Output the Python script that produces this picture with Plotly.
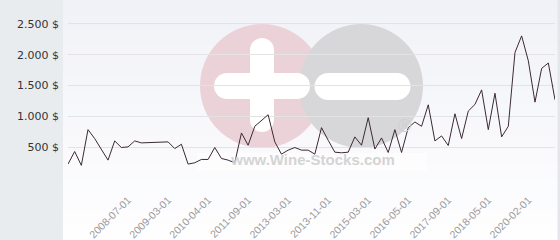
import plotly.graph_objects as go

dates = [
    "2006-10-01", "2006-12-01", "2007-02-01", "2007-05-01", "2007-07-01", "2007-10-01",
    "2007-12-01", "2008-02-01", "2008-04-01", "2008-07-01",
    "2008-08-01", "2008-09-01", "2008-11-01", "2008-12-01", "2009-01-01", "2009-03-01",
    "2009-05-01", "2009-07-01", "2009-09-01", "2009-11-01", "2010-01-01", "2010-04-01",
    "2010-07-01", "2010-09-01", "2010-12-01", "2011-02-01", "2011-05-01", "2011-09-01",
    "2011-12-01", "2012-03-01", "2012-06-01", "2012-09-01", "2012-12-01", "2013-03-01",
    "2013-04-01", "2013-06-01", "2013-07-01", "2013-08-01", "2013-10-01", "2013-11-01",
    "2014-01-01", "2014-04-01", "2014-06-01", "2014-09-01", "2014-12-01", "2015-03-01",
    "2015-05-01", "2015-08-01", "2015-10-01", "2016-01-01", "2016-03-01", "2016-05-01",
    "2016-08-01", "2016-11-01", "2017-01-01", "2017-04-01", "2017-07-01", "2017-09-01",
    "2017-10-01", "2017-12-01", "2018-01-01", "2018-03-01", "2018-04-01", "2018-05-01",
    "2018-09-01", "2019-01-01", "2019-04-01", "2019-07-01", "2019-10-01", "2020-02-01",
    "2020-06-01", "2020-10-01", "2021-02-01", "2021-06-01",
]

prices = [
    226, 430, 205, 785, 640, 468, 290, 602, 495, 505,
    602, 570, 572, 580, 586, 586,
    478, 548, 226, 247, 301, 301,
    495, 317, 290, 247, 731, 532,
    839, 935, 1027, 586, 387, 452,
    495, 452, 452, 387, 817, 613,
    419, 409, 419, 667, 532, 979,
    470, 650, 414, 785, 414, 817,
    909, 839, 1188, 602, 683, 527,
    1043, 640, 1086, 1194, 1430, 785,
    1376, 667, 839, 2037, 2307, 1903,
    1231, 1779, 1866, 1269,
]

x_tick_labels = [
    "2008-07-01", "2009-03-01", "2010-04-01", "2011-09-01", "2013-03-01", "2013-11-01",
    "2015-03-01", "2016-05-01", "2017-09-01", "2018-05-01", "2020-02-01",
]

y_tick_values = [0, 500, 1000, 1500, 2000, 2500]
y_tick_labels = ["", "500 $", "1.000 $", "1.500 $", "2.000 $", "2.500 $"]

watermark_texts = ["www.Wine-Stocks.com", "®"]

W, H = 560, 240
L, R, T, B = 68, 5, 0, 62
PW, PH = W - L - R, H - T - B


def px(xp):
    return (xp - L) / PW


def py(yp):
    return (H - B - yp) / PH


shapes = []

# plot area gradient background
nb = 16
top_c = (241, 242, 247)
bot_c = (254, 254, 255)
for k in range(nb):
    y0 = 240 * k / nb
    y1 = 240 * (k + 1) / nb
    f = k / (nb - 1)
    c = tuple(round(top_c[j] + (bot_c[j] - top_c[j]) * f) for j in range(3))
    shapes.append(dict(type="rect", xref="paper", yref="paper",
                       x0=px(63), x1=px(558), y0=py(y1), y1=py(y0),
                       fillcolor="rgb(%d,%d,%d)" % c, line_width=0, layer="below"))

# left gray panel
shapes.append(dict(type="rect", xref="paper", yref="paper",
                   x0=px(0), x1=px(63), y0=py(240), y1=py(0),
                   fillcolor="#e8ecef", line_width=0, layer="below"))
# right border
shapes.append(dict(type="rect", xref="paper", yref="paper",
                   x0=px(557.5), x1=px(560), y0=py(240), y1=py(0),
                   fillcolor="#e3e6ea", line_width=0, layer="below"))


def circle(cx, cy, r, color):
    return dict(type="circle", xref="paper", yref="paper",
                x0=px(cx - r), x1=px(cx + r), y0=py(cy + r), y1=py(cy - r),
                fillcolor=color, line_width=0, layer="below")


def rect(x0, y0, x1, y1, color, opacity=1.0):
    return dict(type="rect", xref="paper", yref="paper",
                x0=px(x0), x1=px(x1), y0=py(y1), y1=py(y0),
                fillcolor=color, line_width=0, layer="below", opacity=opacity)


# watermark: pink plus circle, gray minus circle
shapes.append(circle(262, 86, 62, "#ebd2d9"))
shapes.append(circle(361, 86, 62, "#d7d7d9"))
# plus sign (white capsules)
shapes.append(rect(250, 50, 274, 120, "#ffffff"))
shapes.append(circle(262, 50, 12, "#ffffff"))
shapes.append(circle(262, 120, 12, "#ffffff"))
shapes.append(rect(227, 73, 297, 99, "#ffffff"))
shapes.append(circle(227, 86, 13, "#ffffff"))
shapes.append(circle(297, 86, 13, "#ffffff"))
# minus sign
shapes.append(rect(328, 73, 397, 100, "#ffffff"))
shapes.append(circle(328, 86.5, 13.5, "#ffffff"))
shapes.append(circle(397, 86.5, 13.5, "#ffffff"))
# text backdrop
shapes.append(rect(197, 153, 427, 171, "#ffffff", 0.55))

fig = go.Figure()

# watermark text, drawn under the price line (pixel-space overlay axes)
fig.add_trace(go.Scatter(
    x=[313], y=[161], text=[watermark_texts[0]], mode="text",
    textfont=dict(family="Liberation Sans, Arial", size=15, color="#d4d4d4", weight="bold"),
    xaxis="x2", yaxis="y2", hoverinfo="skip", cliponaxis=False,
))

fig.add_trace(go.Scatter(
    x=dates, y=prices, mode="lines",
    line=dict(color="#3b2a33", width=1),
    hoverinfo="skip",
))

fig.update_layout(
    width=W, height=H,
    margin=dict(l=L, r=R, t=T, b=B, pad=0),
    paper_bgcolor="#ffffff",
    plot_bgcolor="rgba(0,0,0,0)",
    showlegend=False,
    shapes=shapes,
    annotations=[dict(
        text=watermark_texts[1], xref="paper", yref="paper",
        x=px(413), y=py(138), showarrow=False,
        font=dict(family="Liberation Sans, Arial", size=18, color="#cfcfd1"),
    )],
    xaxis=dict(
        type="category",
        range=[0, len(dates) - 1],
        tickmode="array",
        tickvals=x_tick_labels,
        ticktext=x_tick_labels,
        tickangle=-45,
        showgrid=False, zeroline=False, showline=False,
        ticks="", ticklabelstandoff=13,
        tickfont=dict(family="Liberation Sans, Arial", size=10.5, color="#9a9a9a"),
        fixedrange=True,
    ),
    yaxis=dict(
        range=[0, 2889],
        tickmode="array",
        tickvals=y_tick_values,
        ticktext=y_tick_labels,
        showgrid=True, gridcolor="#e3e3e3", gridwidth=1,
        zeroline=False, showline=False,
        ticks="", ticklabelstandoff=8,
        tickfont=dict(family="DejaVu Sans", size=11, color="#333333"),
        fixedrange=True,
    ),
    xaxis2=dict(overlaying="x", range=[L, W - R], visible=False, fixedrange=True),
    yaxis2=dict(overlaying="y", range=[H - B, T], visible=False, fixedrange=True),
)

fig.write_html("out.html", config={"displayModeBar": False})
